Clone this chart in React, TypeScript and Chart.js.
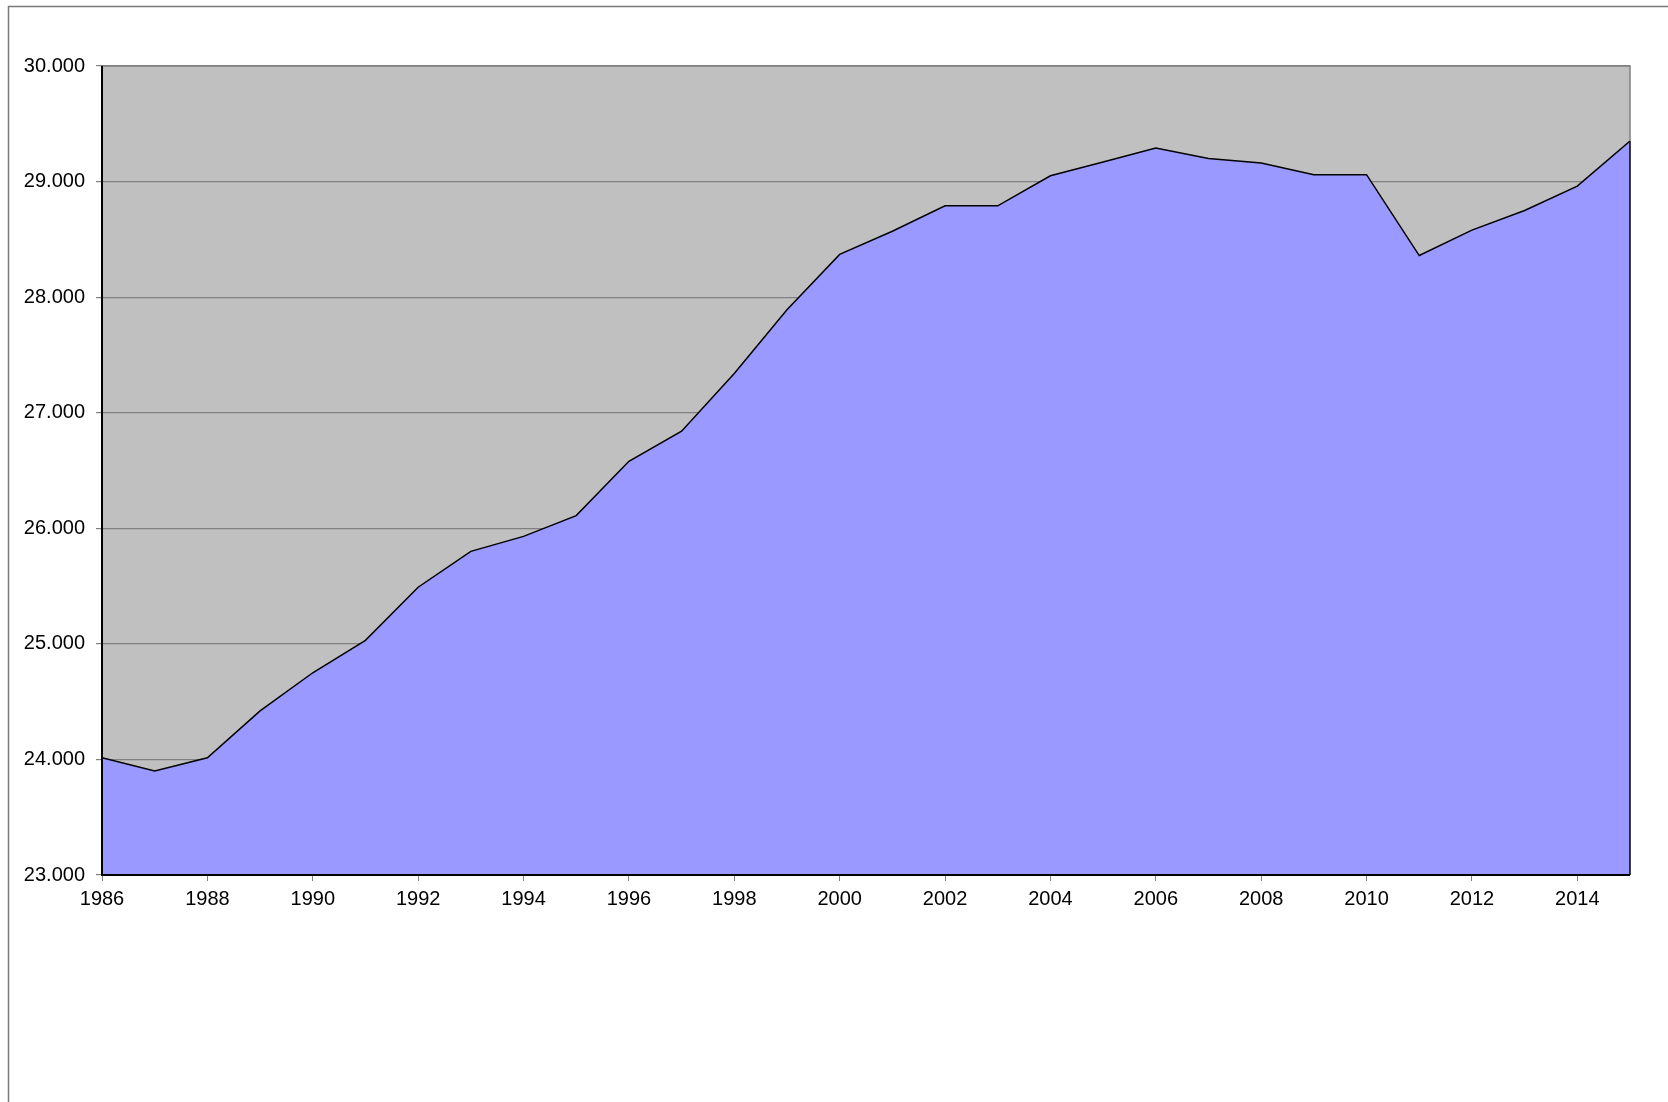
import React, { useEffect, useRef } from "react";
import { Chart, registerables } from "chart.js";

Chart.register(...registerables);

const years: number[] = [
  1986, 1987, 1988, 1989, 1990, 1991, 1992, 1993, 1994, 1995,
  1996, 1997, 1998, 1999, 2000, 2001, 2002, 2003, 2004, 2005,
  2006, 2007, 2008, 2009, 2010, 2011, 2012, 2013, 2014, 2015,
];

const values: number[] = [
  24015, 23900, 24015, 24420, 24750, 25030, 25490, 25800, 25930, 26110,
  26580, 26840, 27340, 27890, 28370, 28570, 28790, 28790, 29050, 29170,
  29290, 29200, 29160, 29060, 29060, 28360, 28580, 28750, 28960, 29350,
];

const xTickYears: number[] = [1986, 1988, 1990, 1992, 1994, 1996, 1998, 2000, 2002, 2004, 2006, 2008, 2010, 2012, 2014];

const yMin = 23000;
const yMax = 30000;
const yStep = 1000;

const W = 1668;
const H = 1102;

export default function App() {
  const ref = useRef<HTMLCanvasElement | null>(null);

  useEffect(() => {
    const canvas = ref.current;
    if (!canvas) return;

    const framePlugin = {
      id: "framePlugin",
      beforeDraw(chart: any) {
        const { ctx, chartArea } = chart;
        ctx.save();
        ctx.fillStyle = "#ffffff";
        ctx.fillRect(0, 0, chart.width, chart.height);
        // outer frame
        ctx.strokeStyle = "#7a7a7a";
        ctx.lineWidth = 1.5;
        ctx.beginPath();
        ctx.moveTo(8.5, H + 5);
        ctx.lineTo(8.5, 6.5);
        ctx.lineTo(W + 5, 6.5);
        ctx.stroke();
        // plot background
        ctx.fillStyle = "#c0c0c0";
        ctx.fillRect(chartArea.left, chartArea.top, chartArea.right - chartArea.left, chartArea.bottom - chartArea.top);
        ctx.restore();
      },
      afterDatasetsDraw(chart: any) {
        const { ctx, chartArea } = chart;
        const meta = chart.getDatasetMeta(0);
        const pts = meta.data;
        const last = pts[pts.length - 1];
        const first = pts[0];
        ctx.save();
        // plot area gray border (top/right)
        ctx.strokeStyle = "#808080";
        ctx.lineWidth = 1.5;
        ctx.beginPath();
        ctx.moveTo(chartArea.left, chartArea.top);
        ctx.lineTo(chartArea.right, chartArea.top);
        ctx.lineTo(chartArea.right, last.y);
        ctx.stroke();
        // black outline of area ends
        ctx.strokeStyle = "#000000";
        ctx.lineWidth = 1.5;
        ctx.beginPath();
        ctx.moveTo(chartArea.right, last.y);
        ctx.lineTo(chartArea.right, chartArea.bottom);
        ctx.stroke();
        // axes
        ctx.lineWidth = 2;
        ctx.beginPath();
        ctx.moveTo(chartArea.left, chartArea.top);
        ctx.lineTo(chartArea.left, chartArea.bottom);
        ctx.lineTo(chartArea.right, chartArea.bottom);
        ctx.stroke();
        ctx.beginPath();
        ctx.moveTo(first.x, first.y);
        ctx.lineTo(chartArea.left, chartArea.bottom);
        ctx.stroke();
        ctx.restore();
      },
    };

    const chart = new Chart(canvas, {
      type: "line",
      data: {
        datasets: [
          {
            data: years.map((y, i) => ({ x: y, y: values[i] })),
            borderColor: "#000000",
            borderWidth: 1.5,
            backgroundColor: "#9999ff",
            fill: "start",
            tension: 0,
            pointRadius: 0,
            pointHoverRadius: 0,
          },
        ],
      },
      options: {
        animation: false,
        responsive: false,
        maintainAspectRatio: false,
        events: [],
        layout: { padding: { left: 0, top: 66, right: 38, bottom: 0 } },
        plugins: {
          legend: { display: false },
          tooltip: { enabled: false },
          title: { display: false },
        },
        scales: {
          x: {
            type: "linear",
            min: years[0],
            max: years[years.length - 1],
            afterBuildTicks(scale: any) {
              scale.ticks = xTickYears.map((v) => ({ value: v }));
            },
            afterFit(scale: any) {
              scale.height = 227;
            },
            border: { display: false },
            grid: {
              drawOnChartArea: false,
              drawTicks: true,
              tickLength: 6,
              tickColor: "#808080",
              tickWidth: 1,
            },
            ticks: {
              autoSkip: false,
              maxRotation: 0,
              padding: 6,
              color: "#000000",
              font: { family: "'Liberation Sans', Arial, sans-serif", size: 20 },
              callback: (v: any) => String(v),
            },
          },
          y: {
            type: "linear",
            min: yMin,
            max: yMax,
            afterFit(scale: any) {
              scale.width = 102;
            },
            border: { display: false },
            grid: {
              color: "#808080",
              lineWidth: 1.2,
              drawTicks: true,
              tickLength: 6,
              tickColor: "#808080",
            },
            ticks: {
              stepSize: yStep,
              padding: 11,
              color: "#000000",
              font: { family: "'Liberation Sans', Arial, sans-serif", size: 20 },
              callback: (v: any) => (Number(v) / 1000).toFixed(3),
            },
          },
        },
      },
      plugins: [framePlugin],
    });

    return () => chart.destroy();
  }, []);

  return (
    <div style={{ position: "fixed", left: 0, top: 0, width: W, height: H, background: "#fff" }}>
      <canvas ref={ref} width={W} height={H} style={{ display: "block", width: W, height: H }} />
    </div>
  );
}
